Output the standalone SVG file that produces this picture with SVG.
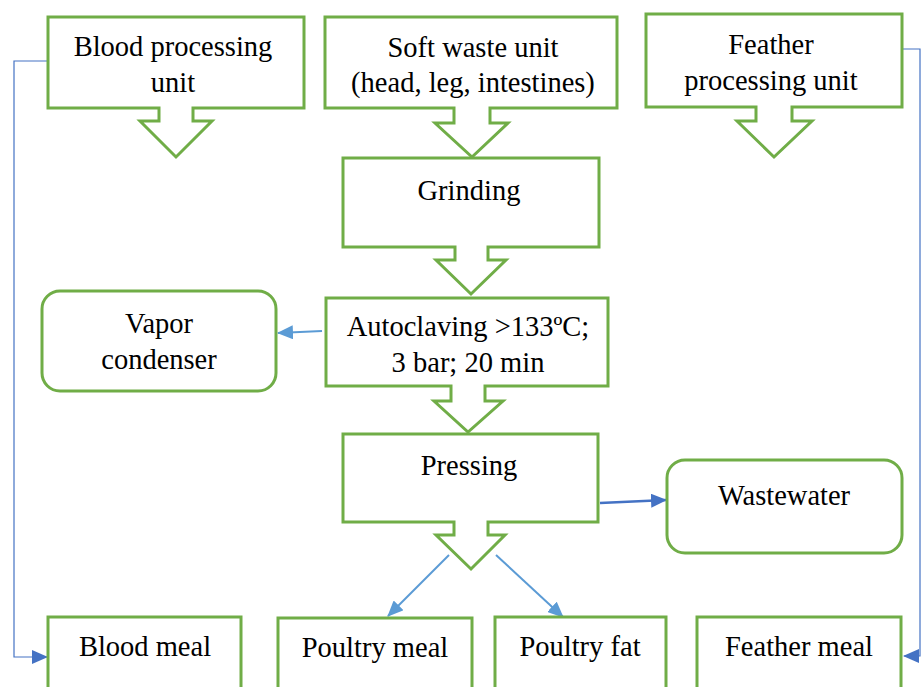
<svg xmlns="http://www.w3.org/2000/svg" width="923" height="687" viewBox="0 0 923 687">
<style>
.box{fill:#fff;stroke:#70AD47;stroke-width:3}
text{font-family:'Liberation Serif','DejaVu Serif',serif;font-size:28.5px;fill:#000;text-anchor:middle}
.c1{fill:none;stroke:#5B9BD5;stroke-width:2}
.c2{fill:none;stroke:#4472C4;stroke-width:2.5}
.c3{fill:none;stroke:#4472C4;stroke-width:1.2}
</style>
<defs>
<marker id="ah1" markerUnits="userSpaceOnUse" markerWidth="16" markerHeight="14" refX="15" refY="7" orient="auto"><path d="M0,0 L16,7 L0,14 Z" fill="#5B9BD5"/></marker>
<marker id="ah2" markerUnits="userSpaceOnUse" markerWidth="16" markerHeight="14" refX="15" refY="7" orient="auto"><path d="M0,0 L16,7 L0,14 Z" fill="#4472C4"/></marker>
</defs>
<rect width="923" height="687" fill="#fff"/>
<g id="connectors">
<path class="c3" d="M48,61 H14 V657 H47" marker-end="url(#ah2)"/>
<path class="c3" d="M902,49 H920 V656 H904" marker-end="url(#ah2)"/>
<path class="c1" d="M322,331 L278,333" marker-end="url(#ah1)"/>
<path class="c2" d="M600,503 L666,500" marker-end="url(#ah2)"/>
<path class="c1" d="M449,555 L388,616" marker-end="url(#ah1)"/>
<path class="c1" d="M496,555 L563,617" marker-end="url(#ah1)"/>
</g>
<g id="blood-unit">
<path class="box" d="M48,17 H304 V108 H193 V121 H212 L176,157 L140,121 H159 V108 H48 Z"/>
<text x="173" y="56">Blood processing</text>
<text x="173" y="92">unit</text>
</g>
<g id="soft-waste">
<path class="box" d="M325,17 H617 V108 H490 V123 H508 L472,157 L435,123 H454 V108 H325 Z"/>
<text x="473" y="57">Soft waste unit</text>
<text x="473" y="92">(head, leg, intestines)</text>
</g>
<g id="feather-unit">
<path class="box" d="M646,14 H902 V107 H792 V121 H812 L774,157 L737,121 H756 V107 H646 Z"/>
<text x="771" y="54">Feather</text>
<text x="771" y="90">processing unit</text>
</g>
<g id="grinding">
<path class="box" d="M343,158 H599 V247 H488 V260 H506 L471,294 L436,260 H455 V247 H343 Z"/>
<text x="469" y="200">Grinding</text>
</g>
<g id="autoclaving">
<path class="box" d="M326,298 H608 V386 H485 V401 H503 L468,432 L434,401 H451 V386 H326 Z"/>
<text x="468" y="336">Autoclaving &gt;133ºC;</text>
<text x="468" y="372">3 bar; 20 min</text>
</g>
<g id="vapor-condenser">
<rect class="box" x="42" y="291" width="234" height="100" rx="18"/>
<text x="159" y="333">Vapor</text>
<text x="159" y="369">condenser</text>
</g>
<g id="pressing">
<path class="box" d="M343,434 H598 V522 H488 V535 H505 L471,569 L436,535 H454 V522 H343 Z"/>
<text x="469" y="475">Pressing</text>
</g>
<g id="wastewater">
<rect class="box" x="667" y="460" width="235" height="93" rx="18"/>
<text x="784" y="505">Wastewater</text>
</g>
<g id="blood-meal">
<rect class="box" x="48" y="617" width="193" height="80"/>
<text x="145" y="656">Blood meal</text>
</g>
<g id="poultry-meal">
<rect class="box" x="278" y="618" width="194" height="80"/>
<text x="375" y="657">Poultry meal</text>
</g>
<g id="poultry-fat">
<rect class="box" x="495" y="617" width="171" height="80"/>
<text x="580" y="656">Poultry fat</text>
</g>
<g id="feather-meal">
<rect class="box" x="697" y="617" width="204" height="80"/>
<text x="799" y="656">Feather meal</text>
</g>
</svg>
